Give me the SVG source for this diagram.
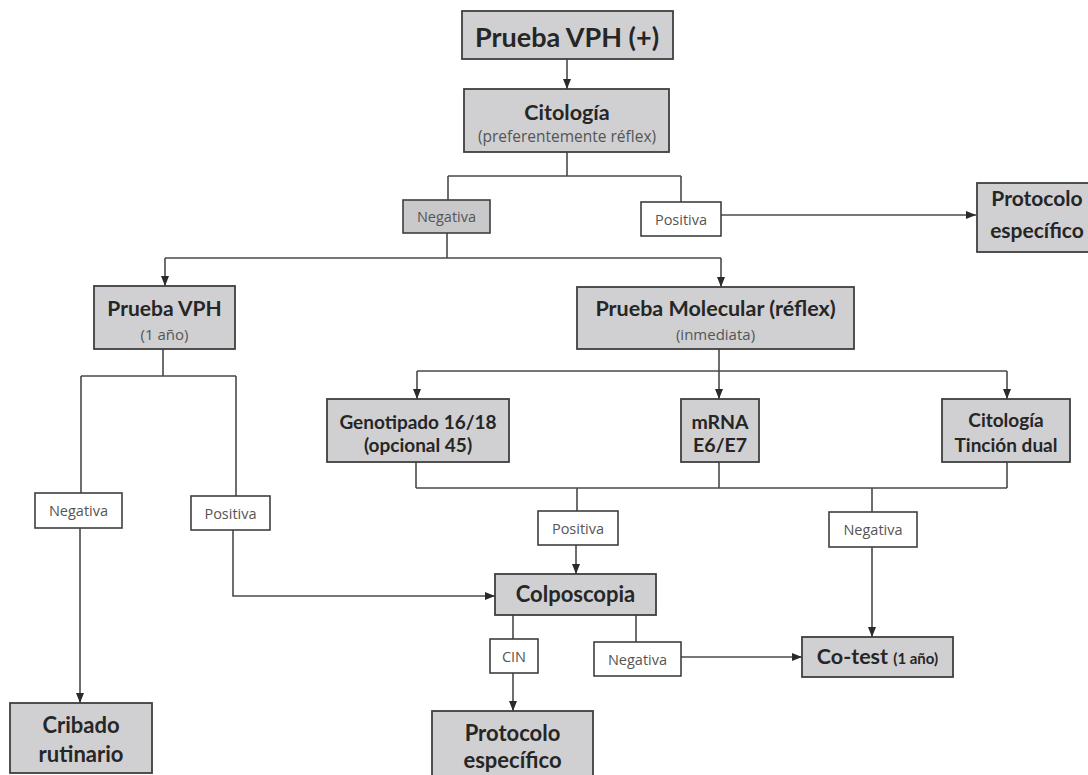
<svg xmlns="http://www.w3.org/2000/svg" width="1088" height="775" viewBox="0 0 1088 775">
  <style>
    .box { fill: #d0d0d2; stroke: #3f3f3f; stroke-width: 1.8; }
    .lbl { fill: #ffffff; stroke: #3f3f3f; stroke-width: 1.6; }
    .lblg { fill: #c9c9cb; stroke: #3f3f3f; stroke-width: 1.6; }
    .t { font-family: Lato, "Liberation Sans", sans-serif; font-weight: bold; fill: #262626; text-anchor: middle; }
    .s { font-family: "Open Sans", "Liberation Sans", sans-serif; fill: #555555; text-anchor: middle; }
    .l { font-size: 14.5px; }
    .conn path { fill: none; stroke: #4a4a4a; stroke-width: 1.6; }
    .arr { marker-end: url(#ah); }
  </style>
  <defs>
    <marker id="ah" markerUnits="userSpaceOnUse" markerWidth="10" markerHeight="10" viewBox="0 0 10 10" refX="10" refY="5" orient="auto">
      <path d="M0,1 L10,5 L0,9 Z" fill="#2a2a2a"/>
    </marker>
  </defs>
  <rect width="1088" height="775" fill="#ffffff"/>

  <!-- connectors -->
  <g id="connectors" class="conn">
    <path class="arr" d="M567,59 V89"/>
    <path d="M567,152 V176 M448,176 H681 M448,176 V200 M681,176 V202"/>
    <path class="arr" d="M721,215 H976"/>
    <path d="M447,233 V258 M165,258 H721"/>
    <path class="arr" d="M165,258 V286"/>
    <path class="arr" d="M721,258 V287"/>
    <path d="M163,349 V376 M81,376 H236 M81,376 V493 M236,376 V496"/>
    <path class="arr" d="M80,528 V703"/>
    <path class="arr" d="M233,530 V596 H495"/>
    <path d="M719,349 V371 M417,371 H1007"/>
    <path class="arr" d="M417,371 V399"/>
    <path class="arr" d="M719,371 V399"/>
    <path class="arr" d="M1007,371 V399"/>
    <path d="M416,462 V488 M719,462 V488 M1007,462 V488 M416,488 H1007 M577,488 V511 M872,488 V512"/>
    <path class="arr" d="M576,545 V574"/>
    <path class="arr" d="M872,547 V637"/>
    <path d="M513,615 V639"/>
    <path class="arr" d="M513,673 V711"/>
    <path d="M636,615 V642"/>
    <path class="arr" d="M681,657 H802"/>
  </g>

  <g id="vph-positiva">
    <rect class="box" x="462" y="11" width="211" height="48"/>
    <text class="t" x="567" y="47" font-size="27">Prueba VPH (+)</text>
  </g>

  <g id="citologia">
    <rect class="box" x="464" y="89" width="205" height="63"/>
    <text class="t" x="567" y="120" font-size="21.5">Citología</text>
    <text class="s" x="567" y="142" font-size="15.5">(preferentemente réflex)</text>
  </g>

  <g id="cit-negativa">
    <rect class="lblg" x="403" y="200" width="87" height="33"/>
    <text class="s l" x="446.5" y="222">Negativa</text>
  </g>

  <g id="cit-positiva">
    <rect class="lbl" x="641" y="202" width="80" height="34"/>
    <text class="s l" x="681" y="224.5">Positiva</text>
  </g>

  <g id="protocolo-1">
    <rect class="box" x="977" y="183" width="120" height="69"/>
    <text class="t" x="1037" y="206" font-size="21">Protocolo</text>
    <text class="t" x="1037" y="238" font-size="21">específico</text>
  </g>

  <g id="prueba-vph">
    <rect class="box" x="94" y="286" width="141" height="63"/>
    <text class="t" x="164.5" y="316" font-size="21">Prueba VPH</text>
    <text class="s" x="164.5" y="339.5" font-size="15">(1 año)</text>
  </g>

  <g id="prueba-molecular">
    <rect class="box" x="577" y="287" width="277" height="62"/>
    <text class="t" x="715.5" y="316" font-size="21.5">Prueba Molecular (réflex)</text>
    <text class="s" x="715.5" y="339.5" font-size="15">(inmediata)</text>
  </g>

  <g id="genotipado">
    <rect class="box" x="327" y="399" width="182" height="63"/>
    <text class="t" x="418" y="429" font-size="19">Genotipado 16/18</text>
    <text class="t" x="418" y="452" font-size="19">(opcional 45)</text>
  </g>

  <g id="mrna">
    <rect class="box" x="681" y="399" width="78" height="63"/>
    <text class="t" x="720" y="429" font-size="19.5">mRNA</text>
    <text class="t" x="720" y="452" font-size="19.5">E6/E7</text>
  </g>

  <g id="tincion-dual">
    <rect class="box" x="942" y="399" width="128" height="63"/>
    <text class="t" x="1006" y="427" font-size="19">Citología</text>
    <text class="t" x="1006" y="452" font-size="19">Tinción dual</text>
  </g>

  <g id="vph-negativa">
    <rect class="lbl" x="35" y="493" width="87" height="35"/>
    <text class="s l" x="78.5" y="516">Negativa</text>
  </g>

  <g id="vph-positiva-lbl">
    <rect class="lbl" x="191" y="496" width="79" height="34"/>
    <text class="s l" x="230.5" y="518.5">Positiva</text>
  </g>

  <g id="mol-positiva">
    <rect class="lbl" x="538" y="511" width="80" height="34"/>
    <text class="s l" x="578" y="533.5">Positiva</text>
  </g>

  <g id="mol-negativa">
    <rect class="lbl" x="829" y="512" width="88" height="35"/>
    <text class="s l" x="873" y="535">Negativa</text>
  </g>

  <g id="colposcopia">
    <rect class="box" x="495" y="574" width="161" height="41"/>
    <text class="t" x="575.5" y="602" font-size="22">Colposcopia</text>
  </g>

  <g id="cin">
    <rect class="lbl" x="490" y="639" width="48" height="34"/>
    <text class="s l" x="514" y="661.5">CIN</text>
  </g>

  <g id="colpo-negativa">
    <rect class="lbl" x="594" y="642" width="87" height="34"/>
    <text class="s l" x="637.5" y="664.5">Negativa</text>
  </g>

  <g id="co-test">
    <rect class="box" x="802" y="637" width="151" height="40"/>
    <text class="t" x="877.5" y="664" font-size="21.5">Co-test <tspan font-size="15">(1 año)</tspan></text>
  </g>

  <g id="cribado">
    <rect class="box" x="10" y="703" width="142" height="70"/>
    <text class="t" x="81" y="733" font-size="22">Cribado</text>
    <text class="t" x="81" y="762" font-size="22">rutinario</text>
  </g>

  <g id="protocolo-2">
    <rect class="box" x="432" y="711" width="161" height="80"/>
    <text class="t" x="512.5" y="741" font-size="22">Protocolo</text>
    <text class="t" x="512.5" y="768" font-size="22">específico</text>
  </g>
</svg>
